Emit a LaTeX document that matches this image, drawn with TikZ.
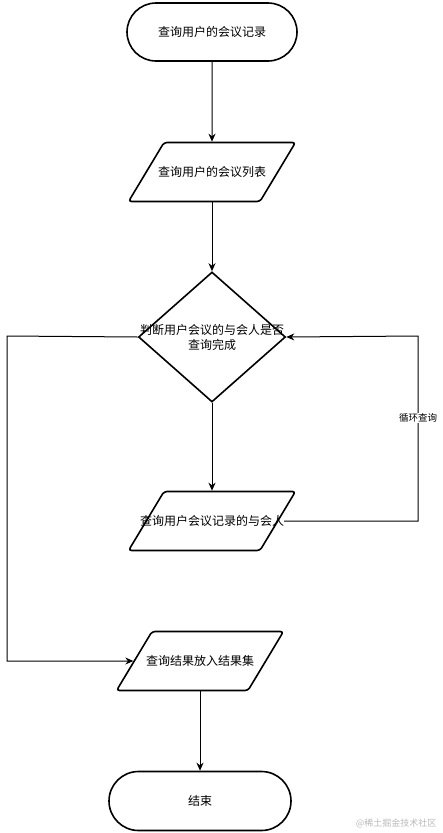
\documentclass[tikz,border=0pt]{standalone}
\usepackage{fontspec}
\setmainfont{Noto Sans CJK SC}
\usetikzlibrary{shapes.geometric,shapes.misc,arrows.meta}

\tikzset{
	term/.style={rounded rectangle, draw, line width=1.6pt, minimum width=170pt, minimum height=58pt, inner sep=0pt, font=\fontsize{12pt}{15pt}\selectfont},
	io/.style={trapezium, trapezium left angle=59, trapezium right angle=121, draw, line width=1.6pt, rounded corners=3pt, inner xsep=48pt, inner ysep=29.5pt},
	decide/.style={diamond, draw, line width=1.6pt, minimum width=147pt, minimum height=130pt, inner sep=0pt},
	txt/.style={inner sep=0pt, font=\fontsize{12pt}{15pt}\selectfont},
	flow/.style={-{Stealth[length=8pt,width=7pt]}, line width=1pt},
}

\begin{document}
\begin{tikzpicture}[x=1pt,y=-1pt]
			\useasboundingbox (0,0) rectangle (442,833);
			% shapes
			\node[term] (start) at (212,32) {查询用户的会议记录};
			\node[io] (list) at (212,172) {};
			\node[txt] (listt) at (list) {查询用户的会议列表};
			\node[decide] (check) at (212,337) {};
			\node[txt, align=center] (checkt) at (check) {判断用户会议的与会人是否\\查询完成};
			\node[io] (attend) at (212,521) {};
			\node[txt] (attendt) at (attend) {查询用户会议记录的与会人};
			\node[io] (result) at (200,661) {};
			\node[txt] (resultt) at (result) {查询结果放入结果集};
			\node[term, minimum width=182pt, minimum height=59pt] (stop) at (200,801) {结束};
			\coordinate (rcorner) at (418,336);
			\coordinate (lcorner) at (7,336);
			% connectors
			\path[flow]
			(start) edge (list)
			(list) edge (check)
			(check) edge (attend)
			(result) edge (stop);
			\draw[flow] (attendt.east) -| (rcorner) -- (check.east);
			\draw[flow] (check.west) -- (lcorner) |- (result.west);
			\node[fill=white, inner sep=1pt, font=\fontsize{9.5pt}{11pt}\selectfont] (loop) at (418,418) {循环查询};
			\node[anchor=east, text=gray!55, font=\fontsize{9pt}{10pt}\selectfont] (mark) at (440,823) {@稀土掘金技术社区};
		\end{tikzpicture}
\end{document}
